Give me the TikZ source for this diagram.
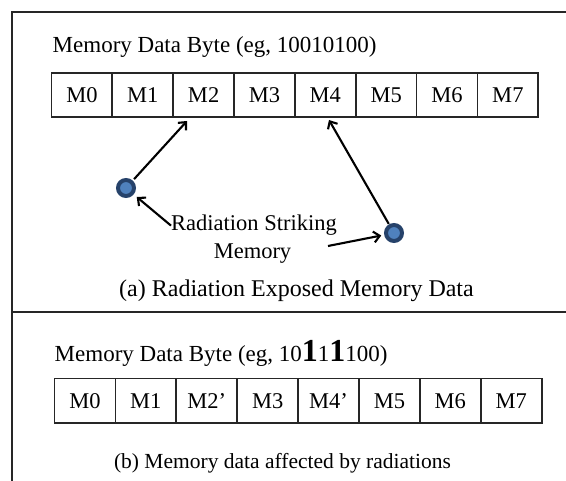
\documentclass[tikz,border=0pt]{standalone}
\usepackage{fontspec}
\setmainfont{Liberation Serif}
\usetikzlibrary{arrows.meta}
\definecolor{ringblue}{RGB}{38,66,106}
\definecolor{coreblue}{RGB}{79,129,189}
\begin{document}
\begin{tikzpicture}[x=1pt,y=-1pt,
  frameline/.style={line width=1.9pt, black!85},
  cell/.style={draw, line width=1.7pt, black!85, minimum width=60.9pt, minimum height=44.5pt,
    inner sep=0pt, text=black, font=\fontsize{22.5}{26}\selectfont},
  label/.style={inner sep=0pt, font=\fontsize{22.5}{26}\selectfont},
  particle/.style={circle, draw=ringblue, fill=coreblue, line width=4pt, minimum size=16pt, inner sep=0pt},
  hitarrow/.style={line width=2.1pt, -{Straight Barb[length=6pt,width=11pt]}}]
\useasboundingbox (0,0) rectangle (566,481);

% panel frame
\draw[frameline] (566,12) -- (12,12) -- (12,481);
\draw[frameline] (12,311.7) -- (566,311.7);

% (a) original byte
\node[label, anchor=base west, font=\fontsize{23}{26}\selectfont] (title1) at (52.5,53) {Memory Data Byte (eg, 10010100)};
\foreach \i in {0,...,7} {
  \node[cell] (a\i) at ({51.5+60.85*(\i+0.5)},95) {M\i};
}

% particles striking the memory
\node[particle] (p1) at (126,188) {};
\node[particle] (p2) at (394,233) {};
\node[label, anchor=base] (rad1) at (254,231) {Radiation Striking};
\node[label, anchor=base] (rad2) at (252.5,259) {Memory};
\coordinate (hit2) at (187,121);
\coordinate (hit4) at (329,120);
\coordinate (from4) at (328,246);
\draw[hitarrow, shorten <=2pt] (p1) -- (hit2);
\draw[hitarrow, shorten <=0.5pt] (p2) -- (hit4);
\draw[hitarrow, shorten >=4pt] (rad1.west) -- (p1);
\draw[hitarrow, shorten >=3pt] (from4) -- (p2);

\node[label, anchor=base, font=\fontsize{24}{26}\selectfont] (capa) at (296.5,297) {(a) Radiation Exposed Memory Data};

% (b) corrupted byte
\node[label, anchor=base west, font=\fontsize{23}{26}\selectfont] (title2) at (54.5,362)
  {Memory Data Byte (eg, 10{\fontsize{32}{32}\selectfont\bfseries 1}1{\fontsize{32}{32}\selectfont\bfseries 1}100)};
\foreach \i/\t in {0/M0,1/M1,2/M2',3/M3,4/M4',5/M5,6/M6,7/M7} {
  \node[cell] (b\i) at ({54.5+60.9*(\i+0.5)},400.8) {\t};
}
\node[label, anchor=base, font=\fontsize{21.5}{26}\selectfont] (capb) at (282.5,469) {(b) Memory data affected by radiations};
\end{tikzpicture}
\end{document}
